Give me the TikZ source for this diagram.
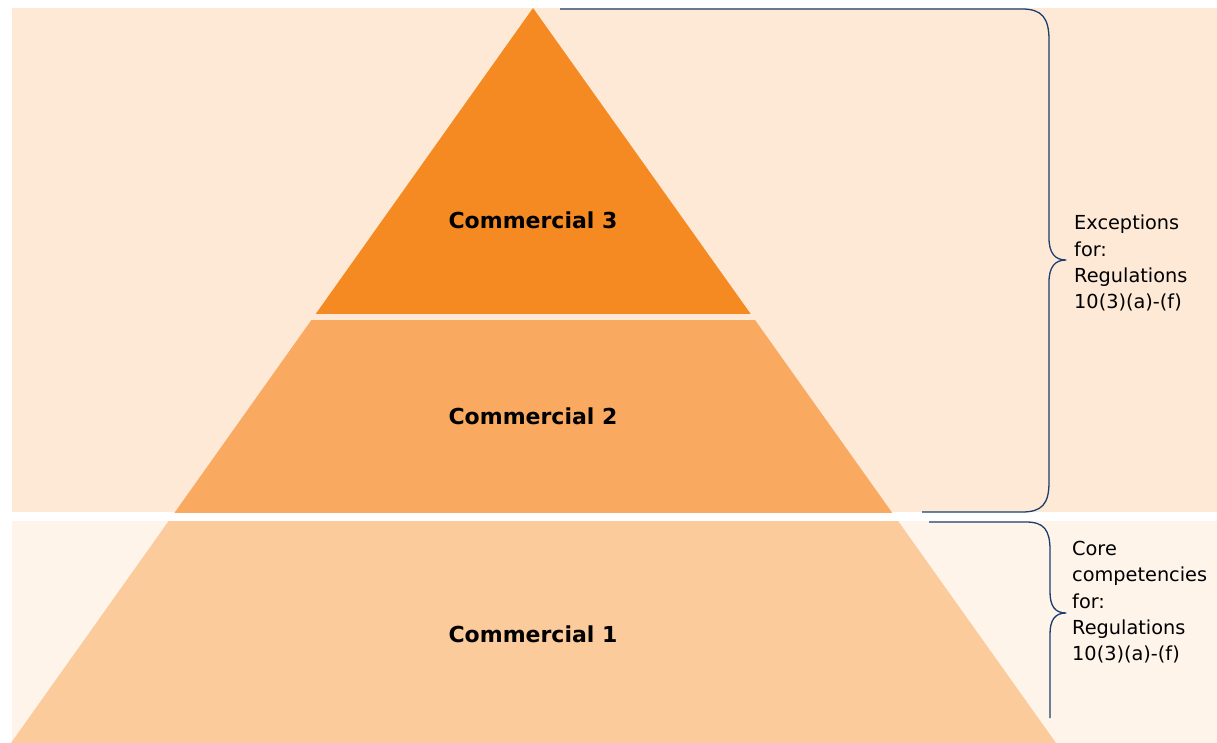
\documentclass[tikz,border=0pt]{standalone}
\usepackage{fontspec}
\setmainfont{DejaVu Sans}
\definecolor{bgupper}{HTML}{FDE9D6}
\definecolor{bglower}{HTML}{FEF4EA}
\definecolor{tierthree}{HTML}{F58A22}
\definecolor{tiertwo}{HTML}{F9A960}
\definecolor{tierone}{HTML}{FBCB9C}
\definecolor{bracecol}{HTML}{1B3E6F}
\tikzset{
  tierlabel/.style={font=\fontsize{22}{26}\selectfont\bfseries, text=black, anchor=base, inner sep=0pt},
  notelabel/.style={font=\fontsize{19.3}{26.3}\selectfont, text=black, anchor=north west, align=left, inner sep=0pt},
  bracepath/.style={draw=bracecol, line width=1.3pt, line join=round}
}
\newcommand{\pyramidshape}{(533,8) -- (11,743) -- (1056,743) -- cycle}
\begin{document}
\begin{tikzpicture}[x=1pt,y=-1pt]
\useasboundingbox (0,0) rectangle (1217,743);
% background bands
\fill[bgupper] (12,8) rectangle (1217,512);
\fill[bglower] (12,521) rectangle (1217,743);
% pyramid tiers, cut from one triangle
\begin{scope}
  \clip (0,0) rectangle (1217,313);
  \fill[tierthree] \pyramidshape;
\end{scope}
\begin{scope}
  \clip (0,320) rectangle (1217,512);
  \fill[tiertwo] \pyramidshape;
\end{scope}
\begin{scope}
  \clip (0,521) rectangle (1217,743);
  \fill[tierone] \pyramidshape;
\end{scope}
% tier labels
\node[tierlabel] (c3) at (533,229) {Commercial 3};
\node[tierlabel] (c2) at (533,424) {Commercial 2};
\node[tierlabel] (c1) at (533,642) {Commercial 1};
% braces
\draw[bracepath] (560,9) -- (1022,9) .. controls (1042,9) and (1049,18) .. (1049,40)
  -- (1049,238) .. controls (1049,253) and (1055,260) .. (1066,260)
  .. controls (1055,260) and (1049,267) .. (1049,282)
  -- (1049,482) .. controls (1049,504) and (1042,512) .. (1022,512) -- (922,512);
\draw[bracepath] (929,522) -- (1026,522) .. controls (1044,522) and (1050,530) .. (1050,550)
  -- (1050,592) .. controls (1050,606) and (1055,613) .. (1066,613)
  .. controls (1055,613) and (1050,620) .. (1050,634) -- (1050,718);
% brace notes
\node[notelabel] (exc) at (1074,214.9) {Exceptions\\for:\\Regulations\\10(3)(a)-(f)};
\node[notelabel] (core) at (1072,541) {Core\\competencies\\for:\\Regulations\\10(3)(a)-(f)};
\end{tikzpicture}
\end{document}
